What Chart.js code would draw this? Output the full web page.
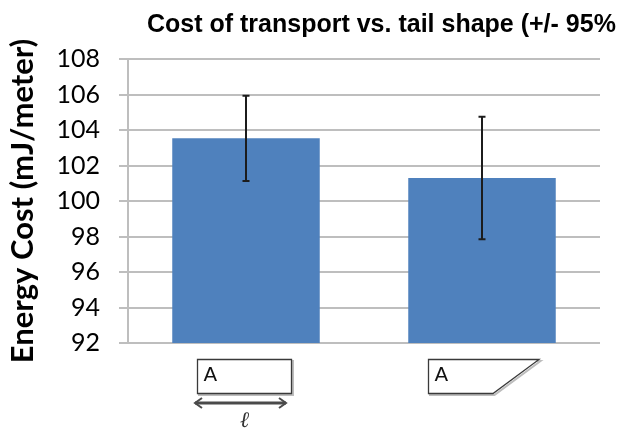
<!DOCTYPE html>
<html>
<head>
<meta charset="utf-8">
<script src="https://cdn.jsdelivr.net/npm/chart.js@4/dist/chart.umd.min.js"></script>
<style>
  html, body { margin: 0; padding: 0; background: #ffffff; }
  #wrap { width: 628px; height: 430px; }
</style>
</head>
<body>
<div id="wrap"><canvas id="c" width="628" height="430"></canvas></div>
<script>
// Category label letter and the tail outline drawn under each bar
const categories = ['A', 'A'];
const tailShapes = ['square', 'angled'];

// Mean energy cost per tail shape and the 95% confidence half-width
const energyCost = [103.53, 101.29];
const ci95 = [2.4, 3.45];

// Value axis range and step
const yMin = 92;
const yMax = 108;
const yStep = 2;

const chartTitle = 'Cost of transport vs. tail shape (+/- 95%';
const yAxisTitle = 'Energy Cost (mJ/meter)';

// Top title, left-aligned at a fixed spot above the plot
const titlePlugin = {
  id: 'topTitle',
  afterDraw(chart) {
    const ctx = chart.ctx;
    ctx.save();
    ctx.fillStyle = '#000000';
    ctx.font = 'bold 25px "Liberation Sans", Arial, sans-serif';
    ctx.textAlign = 'left';
    ctx.textBaseline = 'alphabetic';
    ctx.fillText(chartTitle, 147, 32);
    ctx.restore();
  }
};

// 95% CI whiskers on top of each bar
const errorBarPlugin = {
  id: 'errorBars',
  afterDatasetsDraw(chart) {
    const ctx = chart.ctx;
    const y = chart.scales.y;
    const meta = chart.getDatasetMeta(0);
    ctx.save();
    ctx.strokeStyle = '#1c1c1c';
    ctx.lineWidth = 2;
    meta.data.forEach((bar, i) => {
      const x = Math.round(bar.x);
      const top = y.getPixelForValue(energyCost[i] + ci95[i]);
      const bot = y.getPixelForValue(energyCost[i] - ci95[i]);
      ctx.beginPath();
      ctx.moveTo(x, top); ctx.lineTo(x, bot);
      ctx.moveTo(x - 3.5, top); ctx.lineTo(x + 3.5, top);
      ctx.moveTo(x - 3.5, bot); ctx.lineTo(x + 3.5, bot);
      ctx.stroke();
    });
    ctx.restore();
  }
};

// Tail outline sketches used as the category axis labels
const tailLabelPlugin = {
  id: 'tailLabels',
  afterDraw(chart) {
    const ctx = chart.ctx;
    const xs = chart.scales.x;
    const base = chart.chartArea.bottom;
    ctx.save();
    tailShapes.forEach((shape, i) => {
      const cx = Math.round(xs.getPixelForValue(i));
      const top = base + 16.5;
      const bot = base + 50.5;
      let pts;
      if (shape === 'square') {
        pts = [[cx - 48.5, top], [cx + 45.5, top], [cx + 45.5, bot], [cx - 48.5, bot]];
      } else {
        pts = [[cx - 53.5, top], [cx + 57, top], [cx + 11, bot], [cx - 53.5, bot]];
      }
      // soft grey drop shadow
      ctx.strokeStyle = '#bdbdbd';
      ctx.lineWidth = 2;
      ctx.beginPath();
      pts.forEach((p, k) => k ? ctx.lineTo(p[0] + 1.5, p[1] + 1.5) : ctx.moveTo(p[0] + 1.5, p[1] + 1.5));
      ctx.closePath();
      ctx.stroke();
      ctx.fillStyle = '#ffffff';
      ctx.strokeStyle = '#3a3a3a';
      ctx.lineWidth = 1.3;
      ctx.beginPath();
      pts.forEach((p, k) => k ? ctx.lineTo(p[0], p[1]) : ctx.moveTo(p[0], p[1]));
      ctx.closePath();
      ctx.fill();
      ctx.stroke();

      ctx.fillStyle = '#111111';
      ctx.font = '20px "DejaVu Sans", sans-serif';
      ctx.textAlign = 'left';
      ctx.textBaseline = 'alphabetic';
      ctx.fillText(categories[i], pts[0][0] + 6, top + 21);

      if (shape === 'square') {
        // length arrow and its symbol
        const ay = base + 60;
        const ax0 = cx - 51, ax1 = cx + 40;
        ctx.strokeStyle = '#4a4a4a';
        ctx.lineWidth = 3;
        ctx.beginPath();
        ctx.moveTo(ax0, ay); ctx.lineTo(ax1, ay);
        ctx.stroke();
        ctx.lineWidth = 2;
        ctx.beginPath();
        ctx.moveTo(ax0 + 7, ay - 5); ctx.lineTo(ax0, ay); ctx.lineTo(ax0 + 7, ay + 5);
        ctx.moveTo(ax1 - 7, ay - 5); ctx.lineTo(ax1, ay); ctx.lineTo(ax1 - 7, ay + 5);
        ctx.stroke();
        ctx.fillStyle = '#333333';
        ctx.font = 'italic bold 22px "DejaVu Serif", serif';
        ctx.textAlign = 'center';
        ctx.fillText('\u2113', cx - 1, base + 84);
      }
    });
    ctx.restore();
  }
};

new Chart(document.getElementById('c'), {
  type: 'bar',
  data: {
    labels: categories,
    datasets: [{
      data: energyCost,
      backgroundColor: '#4F81BD',
      borderWidth: 0,
      categoryPercentage: 1,
      barPercentage: 0.625
    }]
  },
  options: {
    responsive: false,
    animation: false,
    devicePixelRatio: 1,
    layout: { padding: { top: 59, right: 28, bottom: 87, left: 0 } },
    plugins: {
      legend: { display: false },
      title: { display: false },
      tooltip: { enabled: false }
    },
    scales: {
      x: { display: false },
      y: {
        min: yMin,
        max: yMax,
        afterFit(scale) { scale.width = 128; },
        ticks: {
          stepSize: yStep,
          color: '#000000',
          padding: 19,
          font: { family: 'Lato, "Liberation Sans", sans-serif', size: 25 }
        },
        grid: { color: '#BEBEBE', lineWidth: 2, tickLength: 9, drawTicks: true },
        border: { display: true, color: '#BEBEBE', width: 2 },
        title: {
          display: true,
          text: yAxisTitle,
          color: '#000000',
          font: { family: 'Lato, "Liberation Sans", sans-serif', size: 31, weight: 'bold' },
          padding: { top: 4, bottom: 0 }
        }
      }
    }
  },
  plugins: [titlePlugin, errorBarPlugin, tailLabelPlugin]
});
</script>
</body>
</html>
